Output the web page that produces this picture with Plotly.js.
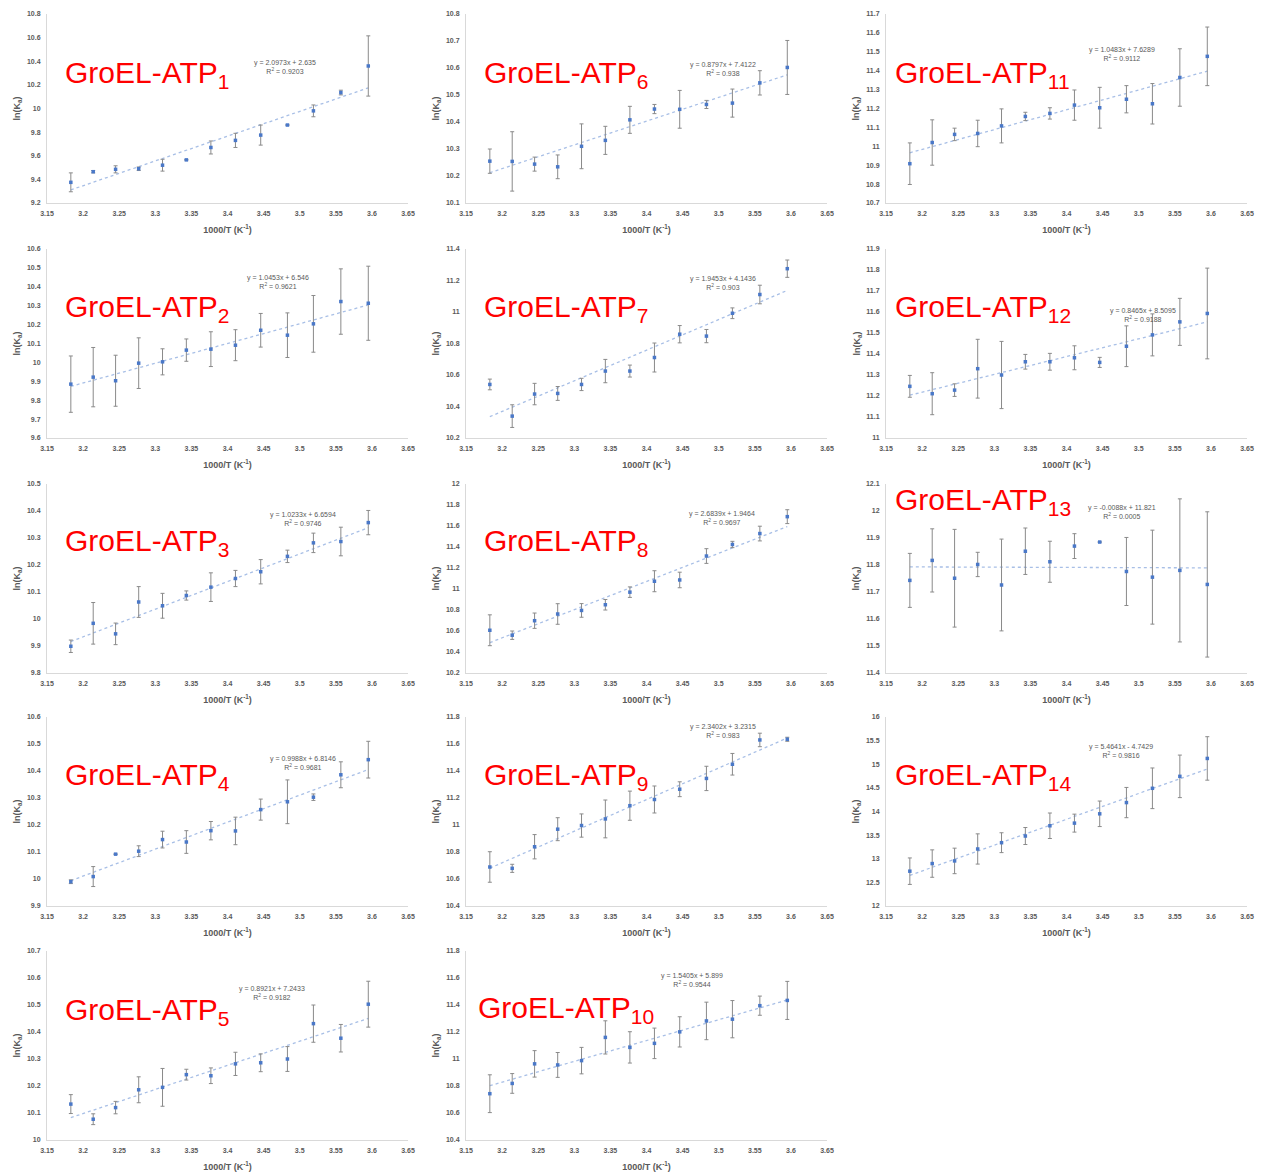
<!DOCTYPE html>
<html><head><meta charset="utf-8">
<script src="https://cdn.plot.ly/plotly-3.0.1.min.js"></script>
<style>html,body{margin:0;padding:0;background:#fff;} #chart{width:1263px;height:1173px;}</style>
</head><body><div id="chart"></div>
<script>
// ---------- data ----------
const invT = [3.183, 3.214, 3.245, 3.277, 3.310, 3.343, 3.377, 3.411, 3.446, 3.483, 3.519, 3.557, 3.595];
const xTickVals = [3.15, 3.2, 3.25, 3.3, 3.35, 3.4, 3.45, 3.5, 3.55, 3.6, 3.65];
const xTickText = ['3.15', '3.2', '3.25', '3.3', '3.35', '3.4', '3.45', '3.5', '3.55', '3.6', '3.65'];
const complexNames = ['1','2','3','4','5','6','7','8','9','10','11','12','13','14'];

const lnKa_ATP1 = [9.375, 9.465, 9.485, 9.49, 9.52, 9.565, 9.67, 9.73, 9.775, 9.86, 9.98, 10.135, 10.36];
const err_ATP1  = [0.08, 0.01, 0.03, 0.015, 0.05, 0, 0.055, 0.06, 0.085, 0, 0.05, 0.02, 0.255];
const lnKa_ATP2 = [9.885, 9.922, 9.903, 9.996, 10.003, 10.065, 10.07, 10.091, 10.17, 10.144, 10.204, 10.322, 10.313];
const err_ATP2  = [0.149, 0.157, 0.135, 0.134, 0.069, 0.059, 0.092, 0.082, 0.089, 0.118, 0.15, 0.173, 0.196];
const lnKa_ATP3 = [9.899, 9.984, 9.945, 10.063, 10.049, 10.087, 10.118, 10.15, 10.175, 10.232, 10.282, 10.287, 10.357];
const err_ATP3  = [0.023, 0.077, 0.04, 0.057, 0.046, 0.017, 0.053, 0.03, 0.045, 0.023, 0.036, 0.053, 0.045];
const lnKa_ATP4 = [9.99, 10.009, 10.092, 10.103, 10.146, 10.137, 10.179, 10.178, 10.257, 10.286, 10.303, 10.386, 10.442];
const err_ATP4  = [0.007, 0.037, 0, 0.02, 0.031, 0.042, 0.034, 0.051, 0.039, 0.081, 0.012, 0.048, 0.068];
const lnKa_ATP5 = [10.133, 10.077, 10.12, 10.186, 10.195, 10.242, 10.238, 10.282, 10.286, 10.3, 10.431, 10.377, 10.503];
const err_ATP5  = [0.035, 0.02, 0.023, 0.048, 0.07, 0.02, 0.029, 0.043, 0.033, 0.046, 0.069, 0.051, 0.085];
const lnKa_ATP6 = [10.255, 10.254, 10.244, 10.234, 10.31, 10.332, 10.408, 10.448, 10.447, 10.465, 10.47, 10.545, 10.602];
const err_ATP6  = [0.045, 0.11, 0.026, 0.044, 0.083, 0.052, 0.05, 0.017, 0.07, 0.015, 0.052, 0.045, 0.1];
const lnKa_ATP7 = [10.54, 10.339, 10.479, 10.483, 10.54, 10.625, 10.625, 10.711, 10.859, 10.847, 10.992, 11.111, 11.275];
const err_ATP7  = [0.034, 0.072, 0.068, 0.044, 0.039, 0.074, 0.038, 0.092, 0.055, 0.042, 0.034, 0.059, 0.055];
const lnKa_ATP8 = [10.607, 10.56, 10.698, 10.762, 10.796, 10.85, 10.97, 11.074, 11.086, 11.314, 11.424, 11.528, 11.689];
const err_ATP8  = [0.147, 0.04, 0.073, 0.098, 0.065, 0.05, 0.05, 0.1, 0.074, 0.07, 0.03, 0.07, 0.066];
const lnKa_ATP9 = [10.689, 10.679, 10.839, 10.969, 10.996, 11.045, 11.143, 11.189, 11.265, 11.345, 11.45, 11.63, 11.635];
const err_ATP9  = [0.113, 0.03, 0.09, 0.085, 0.086, 0.14, 0.108, 0.1, 0.055, 0.09, 0.08, 0.05, 0.015];
const lnKa_ATP10 = [10.743, 10.819, 10.964, 10.956, 10.988, 11.16, 11.086, 11.116, 11.201, 11.282, 11.295, 11.395, 11.434];
const err_ATP10  = [0.14, 0.073, 0.098, 0.092, 0.098, 0.123, 0.116, 0.113, 0.112, 0.139, 0.138, 0.071, 0.141];
const lnKa_ATP11 = [10.908, 11.02, 11.063, 11.068, 11.108, 11.158, 11.174, 11.218, 11.204, 11.249, 11.225, 11.364, 11.476];
const err_ATP11  = [0.11, 0.12, 0.033, 0.07, 0.09, 0.022, 0.03, 0.08, 0.108, 0.072, 0.107, 0.152, 0.155];
const lnKa_ATP12 = [11.246, 11.211, 11.228, 11.33, 11.3, 11.363, 11.363, 11.382, 11.36, 11.437, 11.491, 11.553, 11.593];
const err_ATP12  = [0.052, 0.1, 0.03, 0.14, 0.16, 0.035, 0.04, 0.057, 0.024, 0.097, 0.1, 0.112, 0.216];
const lnKa_ATP13 = [11.743, 11.817, 11.751, 11.802, 11.726, 11.851, 11.812, 11.87, 11.885, 11.776, 11.755, 11.78, 11.728];
const err_ATP13  = [0.1, 0.117, 0.181, 0.045, 0.17, 0.086, 0.076, 0.046, 0, 0.126, 0.174, 0.265, 0.269];
const lnKa_ATP14 = [12.737, 12.898, 12.954, 13.207, 13.34, 13.481, 13.698, 13.754, 13.951, 14.189, 14.491, 14.744, 15.123];
const err_ATP14  = [0.28, 0.29, 0.27, 0.32, 0.21, 0.18, 0.27, 0.19, 0.27, 0.32, 0.43, 0.45, 0.46];

const fitSlope     = [2.0973, 1.0453, 1.0233, 0.9988, 0.8921, 0.8797, 1.9453, 2.6839, 2.3402, 1.5405, 1.0483, 0.8465, -0.0088, 5.4641];
const fitIntercept = [2.635, 6.546, 6.6594, 6.8146, 7.2433, 7.4122, 4.1436, 1.9464, 3.2315, 5.899, 7.6289, 8.5095, 11.821, -4.7429];
const fitR2        = ['0.9203', '0.9621', '0.9746', '0.9681', '0.9182', '0.938', '0.903', '0.9697', '0.983', '0.9544', '0.9112', '0.9188', '0.0005', '0.9816'];

const yAxisMin  = [9.2, 9.6, 9.8, 9.9, 10, 10.1, 10.2, 10.2, 10.4, 10.4, 10.7, 11, 11.4, 12];
const yAxisMax  = [10.8, 10.6, 10.5, 10.6, 10.7, 10.8, 11.4, 12, 11.8, 11.8, 11.7, 11.9, 12.1, 16];
const yAxisStep = [0.2, 0.1, 0.1, 0.1, 0.1, 0.1, 0.2, 0.2, 0.2, 0.2, 0.1, 0.1, 0.1, 0.5];

const seriesY = [lnKa_ATP1, lnKa_ATP2, lnKa_ATP3, lnKa_ATP4, lnKa_ATP5, lnKa_ATP6, lnKa_ATP7, lnKa_ATP8, lnKa_ATP9, lnKa_ATP10, lnKa_ATP11, lnKa_ATP12, lnKa_ATP13, lnKa_ATP14];
const seriesE = [err_ATP1, err_ATP2, err_ATP3, err_ATP4, err_ATP5, err_ATP6, err_ATP7, err_ATP8, err_ATP9, err_ATP10, err_ATP11, err_ATP12, err_ATP13, err_ATP14];

// ---------- layout geometry (pixels) ----------
const W = 1263, H = 1173;
const colLeft = [47, 466, 886];
const rowTop = [14, 249, 484, 717, 951];
const plotW = 361, plotH = 189;
const labelPos = [[63,74],[63,308],[63,542],[63,776],[63,1011],[482,74],[482,308],[482,542],[482,776],[476,1009],[893,74],[893,308],[893,501],[893,776]];
const eqPos = [[285,67],[278,282],[303,519],[303,763],[272,993],[723,69],[723,283],[722,518],[723,731],[692,980],[1122,54],[1143,315],[1122,512],[1121,751]];

const tickFont = {family: 'Liberation Sans', size: 7, color: '#595959', weight: 'bold'};
const titleFont = {family: 'Liberation Sans', size: 9, color: '#595959', weight: 'bold'};

const traces = [];
const layout = {
  width: W, height: H, margin: {l: 0, r: 0, t: 0, b: 0},
  paper_bgcolor: '#fff', plot_bgcolor: '#fff', showlegend: false,
  font: {family: 'Liberation Sans'},
  annotations: []
};

function fmt(v) { return String(v); }

for (let i = 0; i < 14; i++) {
  const col = Math.floor(i / 5), row = i % 5;
  const n = i === 0 ? '' : String(i + 1);
  const l = colLeft[col], t = rowTop[row];
  const xa = 'x' + n, ya = 'y' + n;
  layout['xaxis' + n] = {
    domain: [l / W, (l + plotW) / W], anchor: ya, range: [3.15, 3.65],
    tickmode: 'array', tickvals: xTickVals, ticktext: xTickText,
    showline: true, linecolor: '#d9d9d9', linewidth: 1, ticks: '', showgrid: false, zeroline: false,
    tickfont: tickFont, ticklabelstandoff: 4,
    title: {text: '1000/T (K<sup>-1</sup>)', font: titleFont, standoff: 10}
  };
  layout['yaxis' + n] = {
    domain: [1 - (t + plotH) / H, 1 - t / H], anchor: xa,
    range: [yAxisMin[i], yAxisMax[i]], tick0: yAxisMin[i], dtick: yAxisStep[i], tickformat: '~g',
    showline: true, linecolor: '#d9d9d9', linewidth: 1, ticks: '', showgrid: false, zeroline: false,
    tickfont: tickFont, ticklabelstandoff: 4,
    title: {text: 'ln(K<sub>a</sub>)', font: titleFont, standoff: 4}
  };
  const x0 = invT[0], x1 = invT[invT.length - 1];
  traces.push({
    x: [x0, x1], y: [fitSlope[i] * x0 + fitIntercept[i], fitSlope[i] * x1 + fitIntercept[i]],
    xaxis: xa, yaxis: ya, type: 'scatter', mode: 'lines',
    line: {color: '#a8bfe6', width: 1.3, dash: 'dot'}, hoverinfo: 'skip'
  });
  traces.push({
    x: invT, y: seriesY[i], xaxis: xa, yaxis: ya, type: 'scatter', mode: 'markers',
    marker: {symbol: 'square', size: 3.5, color: '#4a78c8'},
    error_y: {type: 'data', array: seriesE[i], visible: true, color: '#8a8a8a', thickness: 1, width: 2}
  });
  layout.annotations.push({
    xref: 'paper', yref: 'paper', x: labelPos[i][0] / W, y: 1 - labelPos[i][1] / H,
    xanchor: 'left', yanchor: 'middle', showarrow: false,
    text: 'GroEL-ATP<sub>' + complexNames[i] + '</sub>',
    font: {family: 'Liberation Sans', size: 30, color: '#ff0000'}
  });
  const b = fitIntercept[i];
  const eq = 'y = ' + fmt(fitSlope[i]) + 'x ' + (b < 0 ? '- ' + fmt(-b) : '+ ' + fmt(b));
  layout.annotations.push({
    xref: 'paper', yref: 'paper', x: eqPos[i][0] / W, y: 1 - eqPos[i][1] / H,
    xanchor: 'center', yanchor: 'middle', showarrow: false, align: 'center',
    text: eq + '<br>R<sup>2</sup> = ' + fitR2[i],
    font: {family: 'Liberation Sans', size: 7, color: '#595959'}
  });
}

Plotly.newPlot('chart', traces, layout, {staticPlot: true, displayModeBar: false});
</script>
</body></html>
